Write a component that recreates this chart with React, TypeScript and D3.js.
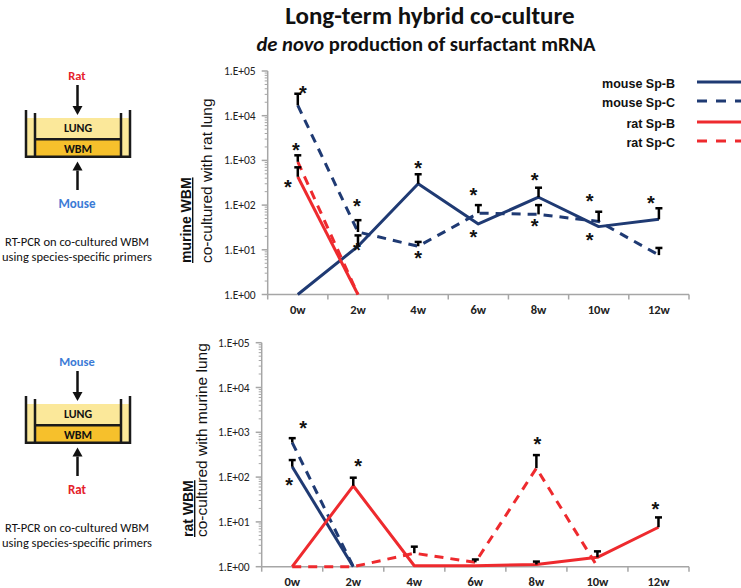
import React from "react";
import * as d3 from "d3";

// ---------- data ----------
const weeks = ["0w", "2w", "4w", "6w", "8w", "10w", "12w"];
const yTickValues = [1, 10, 100, 1000, 10000, 100000];
const yTickLabels = ["1.E+00", "1.E+01", "1.E+02", "1.E+03", "1.E+04", "1.E+05"];

const seriesNames = ["mouse Sp-B", "mouse Sp-C", "rat Sp-B", "rat Sp-C"];

// top panel: murine WBM co-cultured with rat lung
const topMouseSpB = [1, 12, 300, 38, 150, 33, 48];
const topMouseSpBErr = [null, 21, 490, null, 245, null, 85];
const topMouseSpC = [17000, 25, 12, 66, 62, 43, 7.6];
const topMouseSpCErr = [31000, 46, 15, 100, 100, 71, 11];
const topRatSpB = [430, 1, null, null, null, null, null];
const topRatSpBErr = [700, null, null, null, null, null, null];
const topRatSpC = [930, 1, null, null, null, null, null];
const topRatSpCErr = [1300, null, null, null, null, null, null];
// significance asterisks: week, value (visual centre), horizontal nudge
const topStarWeeks = ["0w", "0w", "0w", "2w", "2w", "4w", "4w", "6w", "6w", "8w", "8w", "10w", "10w", "12w"];
const topStarValues = [41000, 2200, 330, 120, 12.3, 870, 8.5, 218, 24, 455, 43, 160, 21.4, 142];
const topStarNudge = [5, -2, -10, -1, -1, 0, 0, -5, -5, -4, -4, -9, -9, -8];

// bottom panel: rat WBM co-cultured with murine lung
const botMouseSpB = [170, 1, null, null, null, null, null];
const botMouseSpBErr = [240, null, null, null, null, null, null];
const botMouseSpC = [590, 1, null, null, null, null, null];
const botMouseSpCErr = [740, null, null, null, null, null, null];
const botRatSpB = [1, 64, 1.05, 1.05, 1.12, 1.62, 7.6];
const botRatSpBErr = [null, 97, null, null, 1.3, 2.2, 12.6];
const botRatSpC = [1, 1, 2.0, 1.25, 158, 1, null];
const botRatSpCErr = [null, null, 2.8, 1.45, 310, null, null];
const botStarWeeks = ["0w", "0w", "2w", "8w", "12w"];
const botStarValues = [1590, 86, 220, 710, 24];
const botStarNudge = [11, -3, 5, 1, -3];

// ---------- styles ----------
const NAVY = "#1f3a73";
const RED = "#ee2a2e";
const seriesColors = [NAVY, NAVY, RED, RED];
const seriesDashed = [false, true, false, true];
const AXIS = "#a6a6a6";
const CAL = "Carlito, Lato, 'Open Sans', sans-serif";
const ARIAL = "'Liberation Sans', Arial, sans-serif";

type Num = number | null;

interface PanelProps {
  xRange: [number, number];
  yRange: [number, number];
  values: Num[][];
  errs: Num[][];
  starWeeks: string[];
  starValues: number[];
  starNudge: number[];
  titleBold: string;
  titleRest: string;
  titleBottom: number;
  titleX: [number, number];
}

function Panel(p: PanelProps) {
  const x = d3.scaleBand<string>().domain(weeks).range(p.xRange).padding(0);
  const y = d3.scaleLog().domain([1, 100000]).range(p.yRange);
  const cx = (w: string) => (x(w) as number) + x.bandwidth() / 2;
  const x0 = p.xRange[0];
  const yBase = y(1);

  const line = d3
    .line<Num>()
    .defined((d) => d != null)
    .x((_, i) => cx(weeks[i]))
    .y((d) => y(d as number));

  const minorTicks: number[] = [];
  for (let k = 0; k < 5; k++) for (let m = 2; m <= 9; m++) minorTicks.push(m * Math.pow(10, k));

  const boundaries = d3.range(weeks.length + 1).map((i) => x0 + i * x.bandwidth());

  return (
    <g>
      {/* y axis */}
      <line x1={x0} x2={x0} y1={y(1)} y2={y(100000)} stroke={AXIS} strokeWidth={1.5} />
      {minorTicks.map((v, i) => (
        <line key={"m" + i} x1={x0 - 3} x2={x0} y1={y(v)} y2={y(v)} stroke={AXIS} strokeWidth={1} />
      ))}
      {yTickValues.map((v, i) => (
        <g key={"t" + i}>
          <line x1={x0 - 6} x2={x0} y1={y(v)} y2={y(v)} stroke={AXIS} strokeWidth={1.5} />
          <text x={x0 - 12} y={y(v)} dy="0.35em" textAnchor="end" fontFamily={CAL} fontSize={11.5} fill="#222">
            {yTickLabels[i]}
          </text>
        </g>
      ))}
      {/* x axis */}
      <line x1={x0} x2={p.xRange[1]} y1={yBase} y2={yBase} stroke={AXIS} strokeWidth={1.5} />
      {boundaries.map((bx, i) => (
        <line key={"b" + i} x1={bx} x2={bx} y1={yBase} y2={yBase + 5} stroke={AXIS} strokeWidth={1.5} />
      ))}
      {weeks.map((w) => (
        <text key={w} x={cx(w)} y={yBase + 19.5} textAnchor="middle" fontFamily={CAL} fontWeight="bold" fontSize={12.5} fill="#222">
          {w}
        </text>
      ))}
      {/* y axis title */}
      <text
        transform={`translate(${p.titleX[0]},${p.titleBottom}) rotate(-90)`}
        fontFamily={ARIAL}
        fontWeight="bold"
        fontSize={14}
        fill="#111"
        style={{ textDecoration: "underline" }}
      >
        {p.titleBold}
      </text>
      <text
        transform={`translate(${p.titleX[1]},${p.titleBottom}) rotate(-90)`}
        fontFamily={ARIAL}
        fontSize={15.5}
        fill="#111"
      >
        {p.titleRest}
      </text>
      {/* series lines */}
      {p.values.map((vals, si) => (
        <path
          key={"s" + si}
          d={line(vals) || ""}
          fill="none"
          stroke={seriesColors[si]}
          strokeWidth={3}
          strokeDasharray={seriesDashed[si] ? "9,7" : undefined}
          strokeLinejoin="round"
        />
      ))}
      {/* error bars */}
      {p.errs.map((errs, si) =>
        errs.map((e, i) => {
          const v = p.values[si][i];
          if (e == null || v == null) return null;
          const xx = cx(weeks[i]);
          return (
            <g key={`e${si}-${i}`}>
              <line x1={xx} x2={xx} y1={y(v)} y2={y(e)} stroke="#000" strokeWidth={2.5} />
              <line x1={xx - 3.5} x2={xx + 3.5} y1={y(e)} y2={y(e)} stroke="#000" strokeWidth={2.5} />
            </g>
          );
        })
      )}
      {/* asterisks */}
      {p.starWeeks.map((w, i) => (
        <text
          key={"a" + i}
          x={cx(w) + p.starNudge[i]}
          y={y(p.starValues[i])}
          dy="0.58em"
          textAnchor="middle"
          fontFamily={ARIAL}
          fontWeight="bold"
          fontSize={20}
          fill="#111"
        >
          *
        </text>
      ))}
    </g>
  );
}

function Arrow({ x, y1, y2 }: { x: number; y1: number; y2: number }) {
  // arrow from y1 to y2 (head at y2)
  const dir = y2 > y1 ? 1 : -1;
  const hb = y2 - dir * 9;
  return (
    <g>
      <line x1={x} x2={x} y1={y1} y2={hb} stroke="#111" strokeWidth={2.5} />
      <path d={`M${x - 5},${hb} L${x + 5},${hb} L${x},${y2} Z`} fill="#111" />
    </g>
  );
}

function Diagram({ oy, topLabel, topColor, botLabel, botColor }: { oy: number; topLabel: string; topColor: string; botLabel: string; botColor: string }) {
  return (
    <g transform={`translate(0,${oy})`}>
      <text x={77} y={79.5} textAnchor="middle" fontFamily={CAL} fontWeight="bold" fontSize={12.5} fill={topColor}>
        {topLabel}
      </text>
      <Arrow x={77.5} y1={85} y2={115} />
      <rect x={26} y={118} width={104} height={38.5} fill="#fbe89a" />
      <rect x={35} y={139.3} width={86} height={17} fill="#f6c02c" />
      <path d="M26,110 V156.7 H130 V110" fill="none" stroke="#1a1a1a" strokeWidth={2.5} />
      <path d="M35,113 V156.7 M121,113 V156.7 M35,139.3 H121" fill="none" stroke="#1a1a1a" strokeWidth={2.5} />
      <text x={78} y={132} textAnchor="middle" fontFamily={CAL} fontWeight="bold" fontSize={12} fill="#111">
        LUNG
      </text>
      <text x={78} y={153} textAnchor="middle" fontFamily={CAL} fontWeight="bold" fontSize={12} fill="#111">
        WBM
      </text>
      <Arrow x={77.5} y1={190} y2={161.5} />
      <text x={77} y={207.5} textAnchor="middle" fontFamily={CAL} fontWeight="bold" fontSize={13} fill={botColor}>
        {botLabel}
      </text>
      <text x={77} y={246} textAnchor="middle" fontFamily={CAL} fontSize={12.5} fill="#111">
        RT-PCR on co-cultured WBM
      </text>
      <text x={77} y={261} textAnchor="middle" fontFamily={CAL} fontSize={12.5} fill="#111">
        using species-specific primers
      </text>
    </g>
  );
}

export default function App() {
  const legendRows = [84, 103, 124, 143];
  return (
    <svg width={741} height={588} style={{ position: "absolute", left: 0, top: 0, background: "#fff" }}>
      <rect width={741} height={588} fill="#fff" />
      <text x={430} y={24} textAnchor="middle" fontFamily={CAL} fontWeight="bold" fontSize={25} fill="#111">
        Long-term hybrid co-culture
      </text>
      <text x={426} y={50.5} textAnchor="middle" fontFamily={CAL} fontWeight="bold" fontSize={20.6} fill="#111">
        <tspan fontStyle="italic">de novo</tspan> production of surfactant mRNA
      </text>

      <Diagram oy={0} topLabel="Rat" topColor="#e5212b" botLabel="Mouse" botColor="#3c7bd6" />
      <Diagram oy={286} topLabel="Mouse" topColor="#3c7bd6" botLabel="Rat" botColor="#e5212b" />

      <Panel
        xRange={[267.7, 689]}
        yRange={[294.5, 71]}
        values={[topMouseSpB, topMouseSpC, topRatSpB, topRatSpC]}
        errs={[topMouseSpBErr, topMouseSpCErr, topRatSpBErr, topRatSpCErr]}
        starWeeks={topStarWeeks}
        starValues={topStarValues}
        starNudge={topStarNudge}
        titleBold="murine WBM"
        titleRest="co-cultured with rat lung"
        titleBottom={263}
        titleX={[191, 212]}
      />
      <Panel
        xRange={[261.7, 689]}
        yRange={[566.7, 342.7]}
        values={[botMouseSpB, botMouseSpC, botRatSpB, botRatSpC]}
        errs={[botMouseSpBErr, botMouseSpCErr, botRatSpBErr, botRatSpCErr]}
        starWeeks={botStarWeeks}
        starValues={botStarValues}
        starNudge={botStarNudge}
        titleBold="rat WBM"
        titleRest="co-cultured with murine lung"
        titleBottom={537}
        titleX={[193, 207]}
      />

      {/* legend */}
      {seriesNames.map((n, i) => (
        <g key={n}>
          <text x={675} y={legendRows[i]} dy="0.35em" textAnchor="end" fontFamily={ARIAL} fontWeight="bold" fontSize={12.5} fill="#111">
            {n}
          </text>
          <line
            x1={697}
            x2={745}
            y1={legendRows[i] - 2}
            y2={legendRows[i] - 2}
            stroke={seriesColors[i]}
            strokeWidth={3}
            strokeDasharray={seriesDashed[i] ? "10,9" : undefined}
          />
        </g>
      ))}
    </svg>
  );
}
